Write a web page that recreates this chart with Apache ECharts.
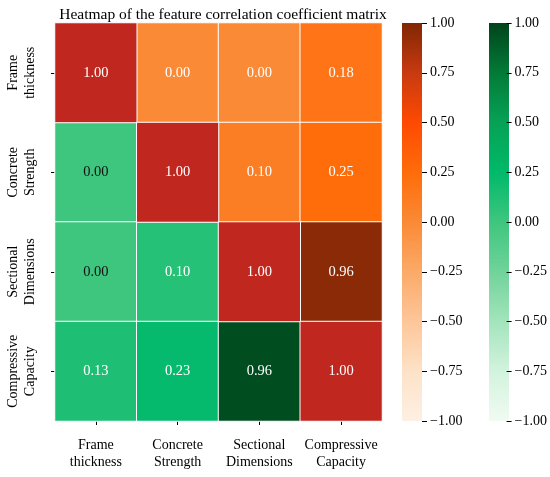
<!DOCTYPE html>
<html>
<head>
<meta charset="utf-8">
<script src="https://cdn.jsdelivr.net/npm/echarts@6/dist/echarts.min.js"></script>
<style>html,body{margin:0;padding:0;background:#fff}#c{width:550px;height:477px}</style>
</head>
<body>
<div id="c"></div>
<script>
var categories = ['Frame\nthickness', 'Concrete\nStrength', 'Sectional\nDimensions', 'Compressive\nCapacity'];
var row0 = [1.00, 0.00, 0.00, 0.18];
var row1 = [0.00, 1.00, 0.10, 0.25];
var row2 = [0.00, 0.10, 1.00, 0.96];
var row3 = [0.13, 0.23, 0.96, 1.00];
var matrix = [row0, row1, row2, row3];
var orangeStops = ['#fdf0e4', '#fde2c7', '#fdc699', '#fbaa68', '#fa8a35', '#ff6c0a', '#fe4a02', '#c83a10', '#7f2704'];
var greenStops = ['#f0fbf2', '#d2f3dd', '#a3e4bc', '#70d39a', '#3ec67e', '#00b96a', '#06a255', '#037a38', '#00441b'];

var upper = [], lower = [], diag = [];
for (var i = 0; i < matrix.length; i++) {
  for (var j = 0; j < matrix[i].length; j++) {
    var v = matrix[i][j];
    if (i === j) diag.push([j, i, v]);
    else if (j > i) upper.push([j, i, v]);
    else lower.push(v <= 0.05 ? { value: [j, i, v], label: { color: '#111' } } : [j, i, v]);
  }
}
function lab(p) { return p.value[2].toFixed(2); }
var serif = 'Liberation Serif, Times New Roman, serif';
var chart = echarts.init(document.getElementById('c'));
function cbAxis(gi) {
  return {
    type: 'value', gridIndex: gi, min: -1, max: 1, interval: 0.25, position: 'right',
    axisLine: { show: false, onZero: false }, splitLine: { show: false },
    axisTick: { show: true, inside: false, length: 5, lineStyle: { color: '#000' } },
    axisLabel: { fontFamily: serif, fontSize: 14, color: '#000', margin: 8,
      formatter: function (v) { return (v < 0 ? '\u2212' : '') + Math.abs(v).toFixed(2); } }
  };
}
function cbX(gi) {
  return { type: 'value', gridIndex: gi, show: false, min: 0, max: 1, axisLine: { onZero: false } };
}
function gradient(stops) {
  var cs = stops.map(function (c, k) { return { offset: 1 - k / (stops.length - 1), color: c }; }).reverse();
  return new echarts.graphic.LinearGradient(0, 0, 0, 1, cs);
}
chart.setOption({
  backgroundColor: '#fff',
  animation: false,
  title: { text: 'Heatmap of the feature correlation coefficient matrix', left: 218, top: 2, textAlign: 'center',
    textStyle: { fontFamily: serif, fontSize: 15.5, fontWeight: 'normal', color: '#000' } },
  grid: [
    { left: 55, top: 23, width: 327, height: 398 },
    { left: 402, top: 23, width: 20, height: 398 },
    { left: 489, top: 23, width: 20, height: 398 }
  ],
  xAxis: [
    { type: 'category', gridIndex: 0, data: categories, position: 'bottom',
      axisLine: { show: false }, splitLine: { show: false },
      axisTick: { show: true, alignWithLabel: true, length: 4, lineStyle: { color: '#000' } },
      axisLabel: { interval: 0, fontFamily: serif, fontSize: 14, color: '#000', margin: 16, lineHeight: 17 } },
    cbX(1), cbX(2)
  ],
  yAxis: [
    { type: 'category', gridIndex: 0, data: categories, inverse: true,
      axisLine: { show: false }, splitLine: { show: false },
      axisTick: { show: true, alignWithLabel: true, length: 4, lineStyle: { color: '#000' } },
      axisLabel: { interval: 0, fontFamily: serif, fontSize: 14, color: '#000', rotate: 90, margin: 16, lineHeight: 17, align: 'center', verticalAlign: 'bottom' } },
    cbAxis(1), cbAxis(2)
  ],
  visualMap: [
    { type: 'continuous', min: -1, max: 1, seriesIndex: 0, show: false, inRange: { color: orangeStops } },
    { type: 'continuous', min: -1, max: 1, seriesIndex: 1, show: false, inRange: { color: greenStops } }
  ],
  graphic: [
    { type: 'rect', left: 402, top: 23, z: -1, shape: { width: 20, height: 398 }, style: { fill: gradient(orangeStops) } },
    { type: 'rect', left: 489, top: 23, z: -1, shape: { width: 20, height: 398 }, style: { fill: gradient(greenStops) } }
  ],
  series: [
    { type: 'heatmap', xAxisIndex: 0, yAxisIndex: 0, data: upper,
      itemStyle: { borderColor: '#fff', borderWidth: 1 },
      label: { show: true, formatter: lab, fontFamily: serif, fontSize: 14.5, color: '#fff' } },
    { type: 'heatmap', xAxisIndex: 0, yAxisIndex: 0, data: lower,
      itemStyle: { borderColor: '#fff', borderWidth: 1 },
      label: { show: true, formatter: lab, fontFamily: serif, fontSize: 14.5, color: '#fff' } },
    { type: 'heatmap', xAxisIndex: 0, yAxisIndex: 0, data: diag,
      itemStyle: { color: '#c0281f', borderColor: '#fff', borderWidth: 1 },
      label: { show: true, formatter: lab, fontFamily: serif, fontSize: 14.5, color: '#fff' } }
  ]
});
</script>
</body>
</html>
